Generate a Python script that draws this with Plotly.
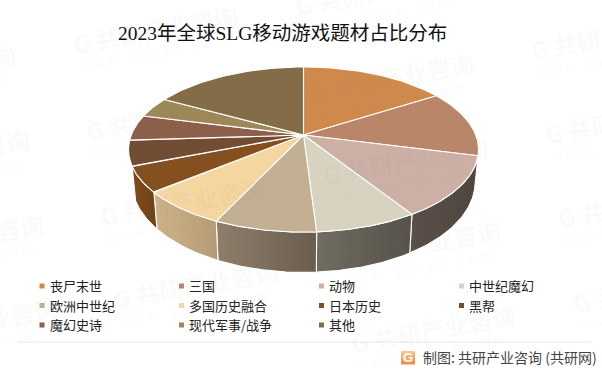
import math
import plotly.graph_objects as go

categories = ["丧尸末世", "三国", "动物", "中世纪魔幻", "欧洲中世纪", "多国历史融合",
              "日本历史", "黑帮", "魔幻史诗", "现代军事/战争", "其他"]
shares = [16, 13, 12, 8, 8, 7, 5, 5, 5, 4, 17]
top_colors = ["#D0894C", "#B9866A", "#CCB0A5", "#D8D3C0", "#C3AF92", "#F4D6A0",
              "#85501F", "#714D33", "#8B5F4A", "#9E8858", "#836C47"]
wall_left = {2: "#5A5049", 3: "#716C60", 4: "#8E7F6C", 5: "#CDB487", 6: "#7E4C1C"}
wall_right = {2: "#4F453F", 3: "#57524A", 4: "#6B5D4F", 5: "#B49B74", 6: "#6F4216"}

title_text = "2023年全球SLG移动游戏题材占比分布"
source_text = "制图: 共研产业咨询 (共研网)"
wm_main = "<b>G 共研产业咨询</b>"
wm_sub = "w w w . g o n y n . c o m"
wm_origins = [(-147, 83), (-133, 167), (-119, 251), (-105, 335),
              (75, 43), (88, 130), (102, 215), (115, 298),
              (297, 6), (311, 90), (325, 174), (339, 258), (353, 342),
              (533, 50), (547, 133), (560, 217), (575, 302)]

CX, CY, A, B, K = 303.5, 135.0, 172.3, 80.0, 0.176
SX, SY = 0.98, 1.09
FRONT_Y = 232.0
DEPTH = 40.3


def top_pt(deg):
    t = math.radians(deg)
    u, v = math.sin(t), math.cos(t)
    d = 1 + K * v
    return CX + A * u / d, CY - B * v / d


def bot_pt(deg):
    x, y = top_pt(deg)
    return CX + SX * (x - CX), FRONT_Y + DEPTH + SY * (y - FRONT_Y)


def arc(fn, a0, a1, n=48):
    return [fn(a0 + (a1 - a0) * i / n) for i in range(n + 1)]


fig = go.Figure()
total = sum(shares)
edges = [0.0]
for s in shares:
    edges.append(edges[-1] + 360.0 * s / total)

# side walls
for i, name in enumerate(categories):
    if i not in wall_left:
        continue
    a0, a1 = edges[i], edges[i + 1]
    pts = arc(top_pt, a0, a1) + arc(bot_pt, a1, a0)
    fig.add_trace(go.Scatter(
        x=[p[0] for p in pts] + [pts[0][0]], y=[p[1] for p in pts] + [pts[0][1]],
        mode="lines", fill="toself", line=dict(color="white", width=1.1),
        fillgradient=dict(type="horizontal",
                          colorscale=[[0, wall_left[i]], [1, wall_right[i]]]),
        name=name, hoverinfo="skip", showlegend=False))

# top faces
for i, name in enumerate(categories):
    pts = [(CX, CY)] + arc(top_pt, edges[i], edges[i + 1]) + [(CX, CY)]
    fig.add_trace(go.Scatter(
        x=[p[0] for p in pts], y=[p[1] for p in pts], mode="lines", fill="toself",
        fillcolor=top_colors[i], line=dict(color="white", width=1.1),
        name=name, hoverinfo="name", showlegend=False))

annotations = []
WM = "rgba(110,110,110,0.045)"
for gx, gy in wm_origins:
    annotations.append(dict(x=(gx + 80) / 602, y=1 - (gy - 14) / 375, text=wm_main, textangle=-10,
                            showarrow=False, xref="paper", yref="paper",
                            xanchor="center", yanchor="middle",
                            font=dict(size=24, color=WM, family="Noto Sans CJK SC")))
    annotations.append(dict(x=(gx + 78) / 602, y=1 - (gy + 10) / 375, text=wm_sub, textangle=-10,
                            showarrow=False, xref="paper", yref="paper",
                            xanchor="center", yanchor="middle",
                            font=dict(size=14, color=WM, family="Liberation Sans")))

# legend
lx = [42, 181.5, 321.5, 461.5]
ly = [286, 305.5, 325]
mx, my = [], []
for i, name in enumerate(categories):
    r, c = divmod(i, 4)
    mx.append(lx[c]); my.append(ly[r])
    annotations.append(dict(x=lx[c] + 5.5, y=ly[r] - 0.5, text=name, showarrow=False, xanchor="left",
                            font=dict(size=13, color="#222222", family="Noto Sans CJK SC"),
                            xref="x", yref="y"))
fig.add_trace(go.Scatter(x=mx, y=my, mode="markers", hoverinfo="skip", showlegend=False,
                         marker=dict(symbol="square", size=5, color=top_colors, line=dict(width=0))))

annotations.append(dict(x=116, y=33, text=title_text, showarrow=False, xanchor="left",
                        font=dict(size=19.5, color="#111111",
                                  family="Liberation Serif, Noto Sans CJK SC"),
                        xref="x", yref="y"))
annotations.append(dict(x=421, y=357, text=source_text, showarrow=False, xanchor="left",
                        font=dict(size=14, color="#444444", family="Noto Sans CJK SC"),
                        xref="x", yref="y"))
annotations.append(dict(x=408, y=357.5, text="<b>G</b>", showarrow=False,
                        font=dict(size=13, color="white", family="Liberation Sans"),
                        xref="x", yref="y"))

# logo tile
fig.add_trace(go.Scatter(x=[401, 415, 415, 401, 401], y=[351, 351, 364.5, 364.5, 351],
                         mode="lines", fill="toself", line=dict(width=0), hoverinfo="skip",
                         fillgradient=dict(type="vertical",
                                           colorscale=[[0, "#F08A3C"], [1, "#F6C98F"]]),
                         showlegend=False))

shapes = [dict(type="line", x0=18, x1=591, y0=342, y1=342,
               line=dict(color="#E6E6E6", width=1), layer="below")]

fig.update_layout(
    width=602, height=375, margin=dict(l=0, r=0, t=0, b=0),
    paper_bgcolor="white", plot_bgcolor="white", showlegend=False,
    xaxis=dict(range=[0, 602], visible=False, fixedrange=True),
    yaxis=dict(range=[375, 0], visible=False, fixedrange=True),
    annotations=annotations, shapes=shapes,
)
fig.write_html("out.html", config=dict(displayModeBar=False),
               post_script="document.body.style.margin='0';")
